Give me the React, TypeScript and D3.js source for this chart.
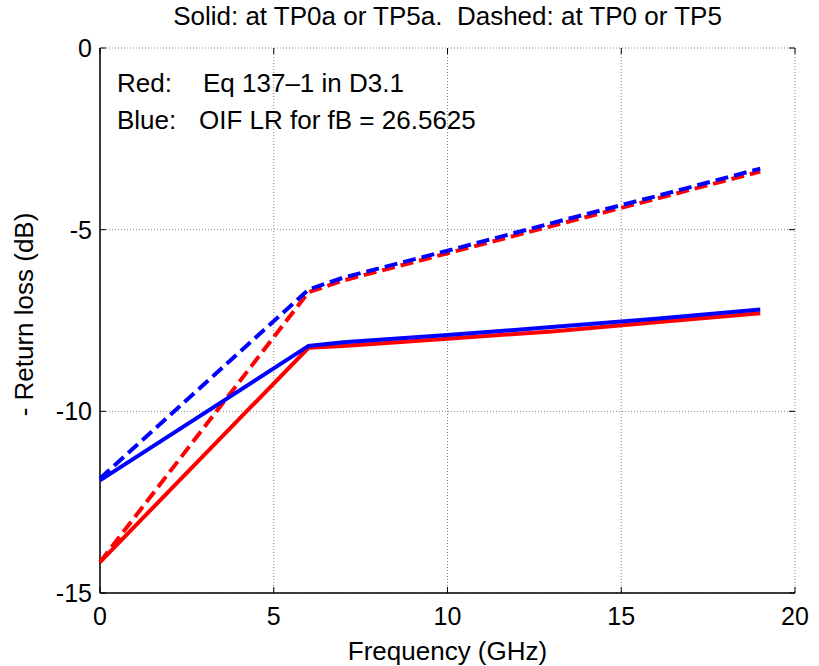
import React from "react";
import * as d3 from "d3";

const xTicks = [0, 5, 10, 15, 20];
const yTicks = [0, -5, -10, -15];

const freqSolid = [0, 6, 7, 10, 13, 16, 19];
const redSolid = [-14.15, -8.25, -8.2, -8.0, -7.8, -7.55, -7.3];
const blueSolid = [-11.9, -8.2, -8.1, -7.9, -7.68, -7.45, -7.2];

const freqDashed = [0, 6, 7, 10, 13, 16, 19];
const redDashed = [-14.15, -6.72, -6.4, -5.65, -4.9, -4.15, -3.4];
const blueDashed = [-11.85, -6.65, -6.32, -5.58, -4.82, -4.08, -3.32];

const W = 819, H = 666;
const L = 100, R = 795, T = 48, B = 593;

export default function App() {
  const x = d3.scaleLinear().domain([0, 20]).range([L, R]);
  const y = d3.scaleLinear().domain([-15, 0]).range([B, T]);
  const line = d3.line<[number, number]>().x(d => x(d[0])).y(d => y(d[1]));
  const mk = (fs: number[], vs: number[]) => line(fs.map((f, i) => [f, vs[i]] as [number, number])) || "";
  const font = "Liberation Sans, Arial, sans-serif";
  return (
    <svg width={W} height={H} style={{ position: "absolute", left: 0, top: 0, background: "#fff" }} fontFamily={font}>
      <rect x={0} y={0} width={W} height={H} fill="#fff" />
      {/* grid */}
      {xTicks.map(t => (
        <line key={"gx" + t} x1={x(t)} x2={x(t)} y1={T} y2={B} stroke="#888" strokeWidth={1} strokeDasharray="1,2" />
      ))}
      {yTicks.map(t => (
        <line key={"gy" + t} x1={L} x2={R} y1={y(t)} y2={y(t)} stroke="#888" strokeWidth={1} strokeDasharray="1,2" />
      ))}
      {/* ticks */}
      {xTicks.map(t => (
        <g key={"tx" + t}>
          <line x1={x(t)} x2={x(t)} y1={B} y2={B - 6} stroke="#000" />
          <line x1={x(t)} x2={x(t)} y1={T} y2={T + 6} stroke="#000" />
        </g>
      ))}
      {yTicks.map(t => (
        <g key={"ty" + t}>
          <line x1={L} x2={L + 6} y1={y(t)} y2={y(t)} stroke="#000" />
          <line x1={R} x2={R - 6} y1={y(t)} y2={y(t)} stroke="#000" />
        </g>
      ))}
      {/* axes */}
      <line x1={L} x2={L} y1={T} y2={B} stroke="#000" strokeWidth={1.5} />
      <line x1={L} x2={R} y1={B} y2={B} stroke="#000" strokeWidth={1.5} />
      {/* data */}
      <path d={mk(freqDashed, redDashed)} fill="none" stroke="#ff0000" strokeWidth={4} strokeDasharray="13,6" />
      <path d={mk(freqDashed, blueDashed)} fill="none" stroke="#0000ff" strokeWidth={4} strokeDasharray="13,6" />
      <path d={mk(freqSolid, redSolid)} fill="none" stroke="#ff0000" strokeWidth={4} />
      <path d={mk(freqSolid, blueSolid)} fill="none" stroke="#0000ff" strokeWidth={4} />
      {/* tick labels */}
      {xTicks.map(t => (
        <text key={"lx" + t} x={x(t)} y={B + 32} fontSize={25} textAnchor="middle">{t}</text>
      ))}
      {yTicks.map(t => (
        <text key={"ly" + t} x={L - 8} y={y(t) + 9} fontSize={25} textAnchor="end">{t}</text>
      ))}
      {/* titles */}
      <text x={(L + R) / 2} y={25} fontSize={26} textAnchor="middle" style={{ whiteSpace: "pre" }}>{"Solid: at TP0a or TP5a.  Dashed: at TP0 or TP5"}</text>
      <text x={(L + R) / 2} y={660} fontSize={26} textAnchor="middle">Frequency (GHz)</text>
      <text transform={`translate(33, ${(T + B) / 2 - 6}) rotate(-90)`} fontSize={26} textAnchor="middle">- Return loss (dB)</text>
      {/* annotations */}
      <text x={117} y={92} fontSize={26}>Red:</text>
      <text x={203} y={92} fontSize={26}>Eq 137–1 in D3.1</text>
      <text x={117} y={129} fontSize={26}>Blue:</text>
      <text x={199} y={129} fontSize={26}>OIF LR for fB = 26.5625</text>
    </svg>
  );
}
